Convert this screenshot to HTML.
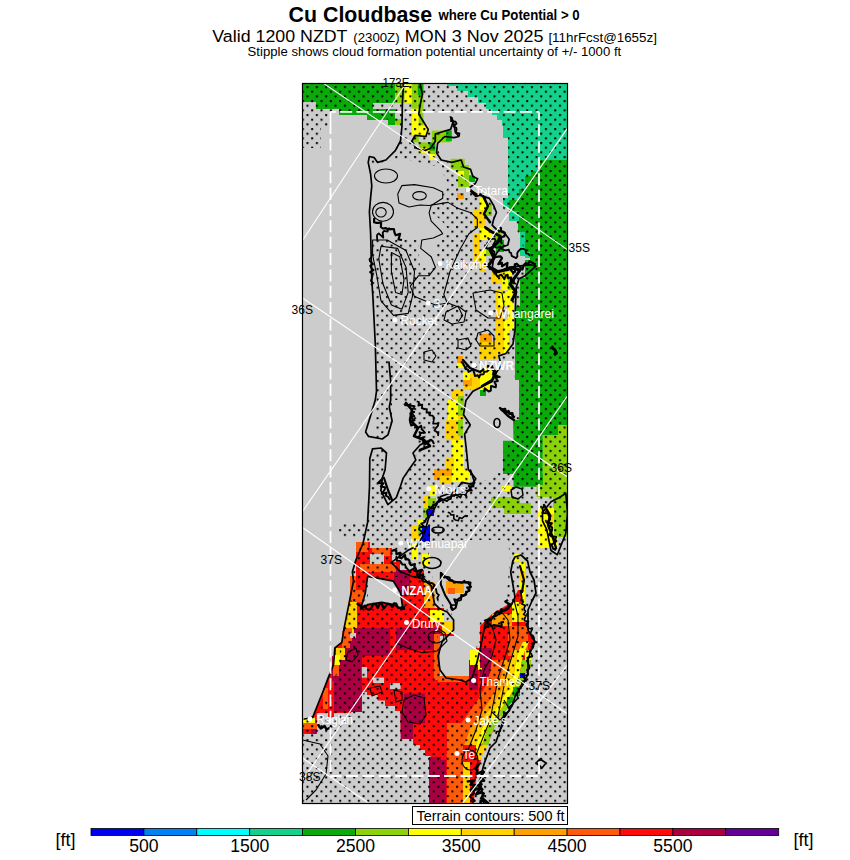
<!DOCTYPE html>
<html><head><meta charset="utf-8"><style>
html,body{margin:0;padding:0;background:#fff;width:850px;height:860px;overflow:hidden}
svg{position:absolute;left:0;top:0;display:block}
text{font-family:"Liberation Sans",sans-serif}
</style></head><body>
<svg width="850" height="860" viewBox="0 0 850 860">
<defs>
<pattern id="dots" x="0" y="0" width="9.4" height="9.4" patternUnits="userSpaceOnUse">
<circle cx="2" cy="2" r="0.9" fill="#000"/><circle cx="6.7" cy="6.7" r="0.9" fill="#000"/>
</pattern>
</defs>
<!-- titles -->
<text x="288.6" y="21.5" font-size="21.5" font-weight="bold" textLength="143.5" lengthAdjust="spacingAndGlyphs">Cu Cloudbase</text>
<text x="438.4" y="20.2" font-size="14.3" font-weight="bold" textLength="141.3" lengthAdjust="spacingAndGlyphs">where Cu Potential &gt; 0</text>
<text x="212.3" y="42.3" font-size="17.2" textLength="135.2" lengthAdjust="spacingAndGlyphs">Valid 1200 NZDT</text>
<text x="353.3" y="42" font-size="12.6" textLength="46.3" lengthAdjust="spacingAndGlyphs">(2300Z)</text>
<text x="404.8" y="42.3" font-size="17.2" textLength="138.8" lengthAdjust="spacingAndGlyphs">MON 3 Nov 2025</text>
<text x="548.4" y="42" font-size="13.6" textLength="108.5" lengthAdjust="spacingAndGlyphs">[11hrFcst@1655z]</text>
<text x="247.6" y="56.2" font-size="13.2" textLength="373.6" lengthAdjust="spacingAndGlyphs">Stipple shows cloud formation potential uncertainty of +/- 1000 ft</text>

<!-- map -->
<g id="map">
<clipPath id="mapclip"><rect x="302.5" y="83.5" width="265" height="720"/></clipPath>
<g clip-path="url(#mapclip)">
<rect x="302.5" y="83.5" width="265" height="720" fill="#cccccc"/>
<polygon points="302,83 395,83 395,125 388,125 388,120 367,120 367,115 339,115 339,109 316,109 316,102 302,102" fill="#0aaa0a"/>
<rect x="373" y="103" width="30" height="6" fill="#cccccc"/>
<rect x="395" y="119" width="6" height="6" fill="#8cd20a"/>
<rect x="395.3" y="83" width="9.4" height="20" fill="#8cd20a"/>
<rect x="404.7" y="83" width="7.1" height="20" fill="#ffff00"/>
<rect x="411.8" y="83" width="5.8" height="25.8" fill="#8cd20a"/>
<rect x="417.6" y="83" width="5.9" height="12.3" fill="#0aaa0a"/>
<rect x="417.6" y="95.3" width="5.9" height="13.5" fill="#8cd20a"/>
<rect x="411.8" y="108.8" width="7" height="26.5" fill="#ffff00"/>
<rect x="418.8" y="125.3" width="9.4" height="10" fill="#ffff00"/>
<rect x="418.8" y="108.8" width="4.7" height="16.5" fill="#8cd20a"/>
<rect x="413" y="135.3" width="5.8" height="7.1" fill="#8cd20a"/>
<rect x="418.8" y="142.4" width="13" height="5.8" fill="#8cd20a"/>
<rect x="418.8" y="148.2" width="10.6" height="4.7" fill="#ffff00"/>
<rect x="429.4" y="143.5" width="5.9" height="13" fill="#8cd20a"/>
<rect x="429.4" y="142.4" width="5.9" height="8.2" fill="#0aaa0a"/>
<rect x="429.4" y="154" width="5.9" height="6" fill="#ffff00"/>
<rect x="431.8" y="130.6" width="18.8" height="11.8" fill="#8cd20a"/>
<rect x="445.9" y="130.6" width="5.9" height="10.6" fill="#0aaa0a"/>
<rect x="450.6" y="158.8" width="14.1" height="10.6" fill="#8cd20a"/>
<rect x="457.6" y="170.6" width="7.1" height="3.4" fill="#ffff00"/>
<rect x="468.2" y="175.3" width="5.9" height="4.7" fill="#0aaa0a"/>
<polygon points="447,83 567.6,83 567.6,252 520,252 520,232 518,232 518,218 509,218 509,208 503,208 503,198 508,198 508,138 503,138 503,126 502,126 502,120 497,120 497,115 492,115 492,109 486,109 486,103 478,103 478,97 468,97 468,91 457,91 457,86 447,86" fill="#14d28c"/>
<polygon points="520,250 532,250 532,258 525,258 525,256 520,256" fill="#14d28c"/>
<polygon points="567.6,160 540,160 540,171 531,171 531,176 525,176 525,189 519,189 519,200 509,200 509,218 518,218 518,232 525,232 525,252 567.6,252" fill="#0aaa0a"/>
<polygon points="530,250 567.6,250 567.6,422 519,422 519,380 515,380 515,306 520,306 520,278 525,278 525,260 530,260" fill="#0aaa0a"/>
<polygon points="513,420 567.6,420 567.6,425 558,425 558,435 542.8,435 542.8,474 547,474 547,486.7 513.5,486.7 513.5,474 503,474 503,440.7 513.5,440.7" fill="#0aaa0a"/>
<polygon points="558,425 567.6,425 567.6,537 553,537 553,497 536.5,497 536.5,485 542.8,485 542.8,435 558,435" fill="#8cd20a"/>
<rect x="491" y="497" width="29" height="11" fill="#8cd20a"/>
<rect x="504" y="503" width="27" height="11" fill="#8cd20a"/>
<rect x="502" y="486" width="9" height="5" fill="#ffff00"/>
<rect x="538" y="508" width="20" height="40" fill="#ffff00"/>
<rect x="548" y="514" width="6" height="12" fill="#ffd200"/>
<rect x="554" y="500" width="13.6" height="36" fill="#8cd20a"/>
<rect x="514.3" y="554" width="5.2" height="7" fill="#ffff00"/>
<rect x="519.5" y="562" width="5.5" height="42" fill="#ffff00"/>
<rect x="519.5" y="572" width="5.5" height="9" fill="#ffd200"/>
<rect x="451" y="159" width="7" height="6" fill="#8cd20a"/>
<rect x="458" y="165" width="11" height="22" fill="#8cd20a"/>
<rect x="458" y="171" width="6" height="5" fill="#ffff00"/>
<rect x="469" y="176" width="6" height="6" fill="#0aaa0a"/>
<rect x="457" y="193" width="7" height="6" fill="#ffa000"/>
<rect x="480" y="198" width="6" height="12" fill="#ffff00"/>
<rect x="486" y="204" width="6" height="12" fill="#8cd20a"/>
<rect x="474" y="210" width="12" height="18" fill="#ffd200"/>
<rect x="480" y="228" width="12" height="12" fill="#ffff00"/>
<rect x="474" y="234" width="6" height="18" fill="#ffd200"/>
<rect x="494" y="232" width="8" height="10" fill="#8cd20a"/>
<rect x="496" y="240" width="8" height="12" fill="#0aaa0a"/>
<rect x="474" y="250" width="6" height="12" fill="#ffd200"/>
<rect x="480" y="250" width="6" height="12" fill="#ffff00"/>
<rect x="486" y="250" width="6" height="6" fill="#8cd20a"/>
<rect x="480" y="262" width="6" height="10" fill="#ffd200"/>
<rect x="492" y="272" width="10" height="12" fill="#ffd200"/>
<rect x="502" y="272" width="10" height="18" fill="#ffff00"/>
<rect x="508" y="278" width="6" height="12" fill="#8cd20a"/>
<rect x="496" y="290" width="8" height="30" fill="#ffd200"/>
<rect x="498" y="292" width="10" height="14" fill="#ffff00"/>
<rect x="508" y="290" width="6" height="40" fill="#ffff00"/>
<rect x="496" y="316" width="4" height="6" fill="#ffa000"/>
<rect x="496" y="320" width="8" height="34" fill="#ffd200"/>
<rect x="504" y="320" width="5" height="34" fill="#ffff00"/>
<rect x="480" y="334" width="12" height="8" fill="#ffa000"/>
<rect x="480" y="342" width="18" height="17" fill="#ffd200"/>
<rect x="457" y="356" width="6" height="7" fill="#ffa000"/>
<rect x="457" y="363" width="6" height="5" fill="#ffff00"/>
<rect x="464" y="374" width="16" height="16" fill="#ffd200"/>
<rect x="480" y="370" width="12" height="20" fill="#ffff00"/>
<rect x="492" y="374" width="6" height="6" fill="#8cd20a"/>
<rect x="464" y="378" width="8" height="8" fill="#ffa000"/>
<rect x="480" y="390" width="6" height="6" fill="#0aaa0a"/>
<rect x="463" y="372" width="7" height="8" fill="#ffff00"/>
<rect x="463" y="380" width="7" height="6" fill="#ffa000"/>
<rect x="452" y="390" width="12" height="32" fill="#ffd200"/>
<rect x="458" y="396" width="6" height="20" fill="#8cd20a"/>
<rect x="448" y="400" width="10" height="22" fill="#ffff00"/>
<rect x="446" y="420" width="14" height="20" fill="#ffd200"/>
<rect x="458" y="420" width="5" height="16" fill="#8cd20a"/>
<rect x="452" y="440" width="12" height="30" fill="#ffff00"/>
<rect x="446" y="458" width="8" height="12" fill="#ffd200"/>
<rect x="434" y="469" width="18" height="11" fill="#ffa000"/>
<rect x="452" y="470" width="18" height="12" fill="#ffff00"/>
<rect x="440" y="476" width="12" height="8" fill="#ffd200"/>
<rect x="430" y="486" width="6" height="10" fill="#ffff00"/>
<rect x="423" y="496" width="7" height="12" fill="#ffd200"/>
<rect x="428" y="498" width="8" height="10" fill="#8cd20a"/>
<rect x="423" y="508" width="7" height="10" fill="#8cd20a"/>
<rect x="428" y="510" width="6" height="6" fill="#0000f0"/>
<rect x="418" y="520" width="6" height="6" fill="#ffff00"/>
<rect x="412" y="526" width="8" height="16" fill="#ffd200"/>
<rect x="418" y="526" width="6" height="8" fill="#8cd20a"/>
<rect x="422" y="526" width="8" height="16" fill="#0000f0"/>
<rect x="412" y="544" width="6" height="16" fill="#ffff00"/>
<rect x="422" y="554" width="8" height="12" fill="#ffff00"/>
<polygon points="356,542 370,542 370,548 392,548 392,562 400,562 400,570 424,570 424,582 434,582 434,608 444,608 444,622 454,622 454,636 438,636 438,680 476,680 476,648 480,648 480,626 492,614 512,602 518,590 522,590 522,610 528,630 535,642 531,650 528,660 526,673 521,687 513,701 505,715 496,728 492,745 482,762 476,780 474,804 430.6,804 430.6,756 425,756 425,750 420,750 420,745 413,745 413,739 406,739 406,734 400.6,734 400.6,711 395,711 395,706 385,706 385,700.6 377.6,700.6 377.6,695 367,695 367,692 362,692 362,695 356.5,695 356.5,700.6 351,700.6 351,713 316.8,713 316.8,734 302.6,734 302.6,719 312.6,717.6 318.1,703.7 323.7,689.7 327.9,678.6 333.5,664.6 334.9,647.9 341.8,642.3 347.4,620 350,600 356,576" fill="#ff0a0a"/>
<rect x="394" y="570" width="16" height="26" fill="#aa0042"/>
<rect x="344" y="628" width="46" height="28" fill="#aa0042"/>
<rect x="396" y="628" width="44" height="22" fill="#aa0042"/>
<rect x="332" y="656" width="30" height="54" fill="#aa0042"/>
<rect x="334" y="660" width="28" height="52" fill="#aa0042"/>
<rect x="404" y="693.5" width="21" height="30" fill="#aa0042"/>
<rect x="400.6" y="711" width="12.4" height="28" fill="#aa0042"/>
<rect x="429" y="757" width="12" height="47" fill="#aa0042"/>
<rect x="480" y="648" width="12" height="30" fill="#aa0042"/>
<rect x="430" y="760" width="16" height="44" fill="#aa0042"/>
<rect x="356" y="542" width="12" height="10" fill="#ff5a0a"/>
<rect x="372" y="548" width="18" height="8" fill="#ff5a0a"/>
<rect x="360" y="564" width="36" height="8" fill="#ff5a0a"/>
<rect x="350" y="576" width="6" height="44" fill="#ff5a0a"/>
<rect x="424" y="582" width="10.5" height="26" fill="#ffa000"/>
<rect x="430" y="610" width="14" height="12" fill="#ffff00"/>
<rect x="442" y="622" width="12" height="12" fill="#ffd200"/>
<rect x="434" y="634" width="6" height="46" fill="#ff5a0a"/>
<rect x="438" y="676" width="38" height="6" fill="#ff5a0a"/>
<rect x="346" y="620" width="8" height="17" fill="#ffd200"/>
<rect x="342" y="631" width="8" height="17" fill="#ff5a0a"/>
<rect x="336" y="648" width="9" height="12" fill="#ffd200"/>
<rect x="333" y="655" width="7" height="10" fill="#ffff00"/>
<rect x="333" y="665" width="6" height="11" fill="#ff5a0a"/>
<rect x="323" y="688" width="9" height="21" fill="#ff5a0a"/>
<rect x="328" y="681" width="6" height="36" fill="#ff0a0a"/>
<rect x="350" y="590" width="16" height="12" fill="#ff5a0a"/>
<rect x="348" y="602" width="9" height="26" fill="#ffd200"/>
<rect x="345" y="628" width="7" height="13" fill="#ff5a0a"/>
<rect x="350" y="600" width="2" height="2" fill="#ff0a0a"/>
<rect x="302.6" y="717.6" width="12.4" height="5.4" fill="#ffff00"/>
<rect x="302.6" y="723" width="14.2" height="7" fill="#ff5a0a"/>
<rect x="302.6" y="729" width="8.4" height="5" fill="#ff0a0a"/>
<rect x="311" y="729" width="5.8" height="5" fill="#aa0042"/>
<rect x="512" y="602" width="7" height="20" fill="#ffff00"/>
<rect x="519" y="604" width="7" height="18" fill="#ffd200"/>
<rect x="492" y="614" width="20" height="12" fill="#ffa000"/>
<rect x="508" y="626" width="20" height="30" fill="#ff5a0a"/>
<rect x="470" y="650" width="12" height="20" fill="#ffff00"/>
<rect x="370" y="554" width="14" height="10" fill="#cccccc"/>
<rect x="361.8" y="667" width="5.2" height="10.6" fill="#cccccc"/>
<rect x="373" y="677.6" width="11" height="5.4" fill="#cccccc"/>
<rect x="390" y="683" width="10.6" height="6" fill="#cccccc"/>
<rect x="350" y="633" width="6" height="5" fill="#cccccc"/>
<polygon points="367.6,576.5 365.3,593 360.6,609.4 367.6,604.7 381.8,602.4 393.5,604.7 402.9,609.4 400.6,593 393.5,581.2 381.8,578.8" fill="#cccccc"/>
<polygon points="504,660 502,673 497,687 489,701 479,715 470,728 464,745 458,756 446,756 452,745 458,728 467,715 477,701 485,687 490,673 492,660" fill="#ff5a0a"/>
<polygon points="510,660 508,673 503,687 495,701 485,715 476,728 470,745 464,756 458,756 464,745 470,728 479,715 489,701 497,687 502,673 504,660" fill="#ffa000"/>
<polygon points="519,650 516,660 514,673 509,687 501,701 491,715 482,728 476,745 470,756 464,756 470,745 476,728 485,715 495,701 503,687 508,673 510,660 513,650" fill="#ffd200"/>
<polygon points="529,642 525,650 522,660 520,673 515,687 507,701 497,715 488,728 482,745 476,756 470,756 476,745 482,728 491,715 501,701 509,687 514,673 516,660 519,650 523,642" fill="#ffff00"/>
<polygon points="528,660 526,673 521,687 513,701 503,715 494,728 488,745 482,756 476,756 482,745 488,728 497,715 507,701 515,687 520,673 522,660" fill="#8cd20a"/>
<rect x="513" y="687" width="7" height="9" fill="#0aaa0a"/>
<rect x="507" y="697" width="6" height="9" fill="#0aaa0a"/>
<rect x="520" y="673" width="5" height="5" fill="#0000f0"/>
<rect x="525" y="650" width="6" height="10" fill="#ffff00"/>
<rect x="525" y="660" width="6" height="8" fill="#8cd20a"/>
<rect x="447" y="723" width="16" height="81" fill="#ff5a0a"/>
<rect x="463" y="745" width="13" height="20" fill="#ff0a0a"/>
<rect x="463" y="762" width="7" height="42" fill="#ffd200"/>
<rect x="478" y="745" width="12" height="15" fill="#ffd200"/>
<rect x="469" y="660" width="9" height="30" fill="#aa0042"/>
<rect x="480" y="650" width="10" height="18" fill="#aa0042"/>
<rect x="470" y="650" width="10" height="15" fill="#ffff00"/>
<polygon points="510,704 503,715 494,728 488,745 482,756 476,780 474,804 500,804 500,740 516,700" fill="#cccccc"/>
<rect x="509" y="211" width="10" height="10" fill="#14d28c"/>
<rect x="446" y="581" width="18" height="12" fill="#ffa000"/>
<rect x="448" y="588" width="7" height="6" fill="#ff5a0a"/>
<defs>
<pattern id="stip" x="305.5" y="85.06" width="9.35" height="9.33" patternUnits="userSpaceOnUse">
<rect x="1" y="1" width="2" height="2" fill="#000"/><rect x="5.675" y="5.665" width="2" height="2" fill="#000"/>
</pattern>
<mask id="stipmask" maskUnits="userSpaceOnUse" x="300" y="80" width="270" height="730">
<rect x="300" y="80" width="270" height="730" fill="#fff"/>
<g fill="#000">
<polygon points="302,148 321,148 321,127 331,127 331,114 380,114 395,125 401,127 400,141 395,150 386,160 377,162 374,158 369,157 368,162 370.6,174 371.8,185.9 370.6,197.6 369.4,211.8 370.6,233 371.8,280 372.9,297 375.3,344 376.5,391 375.3,450 370,458.8 369.5,487 367.6,522.4 363,524 338,524 338,538 363,538 355.9,560 352.4,571.8 353.5,581 348.8,604.7 344.1,628.2 341.8,640 336,674 328,694 318,712 303,722 302,722"/>
<polygon points="372,165 400,158 440,167 449,186 431,212 442,221 450,232 436,240 436,268 420,268 418,240 372,238"/>
<polygon points="420,111 492,111 497,115 502,120 503,126 508,138 508,198 503,198 503,208 509,218 518,232 525,252 530,260 536,266 519,266 507.8,267.5 499,271 492,267 496,253 508,245 505,234 492,225 496,212 489,198 476,194 468,188 463,167 441,160 437,143 452,130 435,134 428,129 422,120 420,105"/>
<polygon points="466,372 492,362 514,360 514,378 519,378 519,416 514,416 514,441 508,441 508,452 502.5,452 500,470 490,480 474,480 469.5,465 465,446 466,436 471,426 464,414 465,403 471,388"/>
<polygon points="440,540 508,540 510,560 505,610 480,622 476,650 472,678 456,680 440,676 436,640 452,614 438,600 432,575 428,550"/>
<polygon points="392,400 404,400 410,420 418,440 415,460 408.8,469.7 400,486 396,497 388,504 381,491 382,478 385,470 386.5,453 381,448 372.6,448.8 368.4,436.3 382.3,439 387.9,434.9 392.1,420.9"/>
<polygon points="368,577 400,577 403,609 368,609"/>
</g>
</mask>
</defs>
<rect x="302" y="83" width="266" height="721" fill="url(#stip)" mask="url(#stipmask)"/>

<g fill="none" stroke="#000" stroke-width="1.1" stroke-linejoin="round">
<ellipse cx="386" cy="176" rx="11.5" ry="7"/>
<ellipse cx="419.5" cy="195.8" rx="6.8" ry="4.2"/>
<ellipse cx="383" cy="211.8" rx="10.5" ry="9.4"/>
<ellipse cx="381" cy="212.3" rx="5.2" ry="4.7"/>
<polyline points="397.7,194 401.9,185.6 414.5,184.6 433.3,187.7 442.7,191.9 442.7,198.2 431.2,205.5 429.1,212.8 431.2,221.2 440.6,230.6 442.7,233.8 433.3,238 421.8,240 420.7,248.4 431.2,256.8 435.4,267.3 429.1,275.7 418.6,275.7 410.3,286.1 414.5,296.6 424.9,300.8 435.4,305 448,303 458.4,307 462.6,315.4 458.4,321.7"/>
<polyline points="397.7,194 399,203 409,207 420,205 429.1,205.5 448,202.4 458.4,208.6 471,212.8 477.3,219.1 477.3,227.5 468.9,233.8 460.5,248.4 450,271.5 443.8,294.5 448,305"/>
<polygon points="372.6,240 387.2,240 406,250.5 414.5,271.5 412.4,296.6 408.2,313.4 393.5,315.4 381,300.8 376.8,275.7 372.6,254.7"/>
<polygon points="381,246.3 397.7,248.4 406,267.3 408.2,292.4 401.9,309.2 391.4,305 383,284 378.8,258.9"/>
<polygon points="391.4,252.6 399.8,256.8 404,279.8 401.9,294.5 395.6,292.4 391.4,271.5"/>
<!-- Whangarei loops -->
<polygon points="473,293 490,290 502,293 504,306 500,318 488,318 476,310"/>
<polygon points="478,333 488,330 494,336 494,346 480,346 476,340"/>
<polygon points="458,340 468,338 471,346 466,350 458,348"/>
<polygon points="424,352 432,350 436,356 432,362 424,360"/>
<polygon points="446,312 458,306 466,312 464,322 452,324 444,320"/>
<!-- Auckland / Drury loops -->
<ellipse cx="436" cy="637" rx="8" ry="6"/>
<polyline points="396,643 407.4,648 422,652.7 437,651 447,641 445,633 438,628"/>
<polygon points="348,652 356,648 358,655 352,662 346,660"/>
<polygon points="404,700 414,695 424,698 426,715 420,724 408,722 402,712"/>
<polygon points="370,688 380,686 382,692 372,696"/>
<polygon points="394,690 402,692 402,700 396,702"/>
<!-- Coromandel nested contours -->
<polyline points="484,620 492,626 496,640 492,656 484,670 480,690 482,710 476,730 468,750"/>
<polyline points="500,610 508,620 510,640 504,660 498,678 494,700 490,720 482,740 474,760"/>
<polyline points="514,600 518,616 518,636 512,656 506,676 502,696 498,716"/>
<polyline points="504,700 510,710 500,720 492,712"/>
<ellipse cx="470" cy="760" rx="8" ry="10"/>
<!-- bottom left contour -->
<polyline points="302.6,740 320,744 328,756 326,774 316,790 306,800"/>
<polygon stroke-width="1.6" points="536,763 540,759 546,763 542,768 540,766"/>
<polygon stroke-width="1.5" points="511,490 516,487 522,489 523,495 518,499 512,497"/>
</g>

<g fill="none" stroke="#000" stroke-width="1.7" stroke-linejoin="round" stroke-linecap="round">
<!-- west coast Northland -->
<polyline points="403.5,83 402.4,103.5 401.9,127 400.5,141 395.3,150.6 385.9,160 377.6,162.4 374.1,157.6 369.4,156.5 368.2,162.4 370.6,174 371.8,185.9 370.6,197.6 369.4,211.8 370.6,233 371.8,280 372.9,297 375.3,344 376.5,391 375.3,400 365.6,432 368.4,436.3 382.3,439 387.9,434.9 392.1,420.9 389.3,407 390.7,400 390.6,380 389,362"/>
<!-- east coast north -->
<polyline points="420,83 422.4,94.1 420,105.9 418.8,114.1 422.4,120 428.2,129.4 425.9,136.5 415.3,135.3 411.8,141.2 416.5,148.2 424.7,150.6 430.6,148.2 435.3,141.2 435.3,134.1 442.4,131.8 450.6,129.4 452.9,122.4 451.8,117.6 454.1,124.7 455.3,131.8 458.8,136.5 454.1,137.6 444.7,136.5 437.6,143.5 436.5,152.9 441.2,160 451.8,162.4 461.2,160 463.5,167 470.6,169.4 472.9,176.5 477.6,178.8 475.3,183.5 468.2,188.5 476.7,194.1 489.4,198.4 493.6,205.4 496.5,212.5 493.6,219.5 492.2,225.2 496.5,229.4 504.9,233.6 509.2,239.3 507.8,245 500.7,247.8 496.5,253.4 493.6,259.1 492.2,267.5 499.3,271.8 507.8,267.5 519.1,266.1 530.4,264.7 536,266.1 524.7,276 519.1,278.8 516.2,287.3 515.3,311.2 515.3,327.6 513,344 505.9,353.5 498.8,355.9 501.2,365.3 496.5,372.4 491.8,381.8 482.4,386.5 472.9,391.2 465.9,400.6 463.5,414.7 470.2,424.8 464.6,434.1 466.5,450.8 468.3,469.4 475.8,478.7 472,484.3 461.8,482.4 454.7,491.8 440.6,496.5 433.5,510.6 428.8,517.6 424.1,534 417,545.9 407.6,550.6 398.2,557.6 391.2,562.4 400.6,571.8 412.4,576.5 424.1,578.8 431.2,585.9 434.5,603.6 439.8,608.8 447.2,612 453.6,620 453.6,630 442,642 438,656 440,670 446,678 460,680 466,682 472,678 476,666 480,650 484,630 486,620 496,616 504,610 512,604 515,597 512.8,584 510.7,572 512.8,561 515,557 521,555 527.6,561 530,572 534,580 536,593 532,601 528,610 528,630 535,642 531,650"/>

<polyline points="531,650 528,660 528,674 522,686 516,694 512,706 504,718 500,730 496,742 490,748 484,764 480,780 484,804"/>
<!-- Kaipara -->
<polyline points="372.6,448.8 369.8,458.6 369.5,487 367.6,522.4 363,543.5 355.9,560 352.4,571.8 353.5,581 348.8,604.7 344.1,628.2 341.8,642.3 334.9,647.9 333.5,664.6 327.9,678.6 323.7,689.7 318.1,703.7 312.6,717.6 304.2,719"/>
<polyline points="372.6,448.8 381,448 386.5,453 385.1,469.7 382.3,478.1 380.9,490.7 387.9,504.6 396.3,497.6 400.4,486.5 403.2,478.1 408.8,469.7 415.8,460 413,453 420,445 430,440"/>
<polyline stroke-width="2.6" points="406,403 412,410 410,420 418,428 414,436 424,440 430,446 420,450"/>
<polyline stroke-width="2.2" points="384,478 388,490 392,500"/>
<!-- Manukau -->
<polyline points="367.6,576.5 365.3,593 360.6,609.4 367.6,604.7 381.8,602.4 393.5,604.7 402.9,609.4 400.6,593 393.5,581.2 381.8,578.8 367.6,576.5"/>
<!-- Hunua coast -->

<polyline stroke-width="3" points="486,228 492,232 500,236 498,242 490,250 494,258 488,266 496,272 505,270 512,268 520,270 516,276 510,284 516,292 512,300"/>
<polyline stroke-width="2.5" points="470,190 476,196 482,194 488,206 484,214 490,222"/>
<polygon points="542.5,512.4 551,501.8 559.4,497.5 565.8,493.3 567.5,512.4 565.8,533.5 561.5,544.1 557.3,554.7 551,550.5 548.8,539.9 546.7,529.3 542.5,520.8"/>
<polyline stroke-width="2.4" points="544,505 550,515 548,525 553,538 556,548"/>
<polygon stroke-width="2" points="440.8,572.8 449.3,580.3 457.8,582.4 470.5,582.4 469.5,589.8 464.2,595.1 457.8,599.3 455.7,607.8 452.5,609.9 450.4,603.6 445.1,595.1 440.8,584.5"/>
<ellipse cx="432" cy="563" rx="9" ry="5.5"/>
<ellipse cx="438" cy="530" rx="6" ry="3"/>
<polyline points="430,508 438.7,501.8 453.5,495.4 466.2,493.3 474.7,482.7 470.5,470"/>
<polyline stroke-width="2.4" points="463,360 470,368 480,372 488,366 496,372 492,380 482,386"/>
<polyline stroke-width="2.4" points="500,408 508,416 514,420"/>
<ellipse cx="497" cy="423" rx="3" ry="4.5"/>
<polyline stroke-width="2.2" points="520,566 524,580 522,592"/>
</g>

<g fill="none" stroke="#000" stroke-linejoin="round"><polyline stroke-width="2.2" points="488.1,241.9 485.6,247.6 487.7,248.7 492.2,247.4 492.4,250.4 494.3,251.8 494.2,254.6 494.4,257.2 500.4,256.3 502.0,258.1 498.3,264.1 502.0,262.9 502.0,266.3 507.5,262.9 506.9,267.0 507.2,270.1 509.3,267.9 513.1,272.7 515.0,271.7 514.8,264.4 516.8,263.7 520.1,267.0 522.5,269.5 523.9,264.8 525.7,263.2 527.9,264.5 529.5,261.1 531.7,262.4 533.9,263.8 536.0,264.0"/>
<polyline stroke-width="1.8" points="487.7,237.4 488.9,239.4 494.7,238.6 495.7,240.7 493.1,245.0 495.5,247.3 497.6,247.7 500.4,246.5 501.8,249.0 503.8,249.8 505.7,250.4 508.8,249.6 509.4,252.1 511.2,253.1 511.6,255.9 516.1,258.1 517.4,256.4 517.2,253.2 518.3,251.3 520.7,248.8 523.4,248.8 525.5,250.0 526.1,253.4 528.6,253.9 530.0,256.0"/>
<polyline stroke-width="2" points="493.1,268.9 493.4,271.8 495.8,272.6 496.4,275.2 497.9,276.9 499.5,275.4 501.4,274.7 504.4,279.2 505.7,275.4 507.7,274.8 507.6,277.8 511.3,277.5 510.8,280.4 513.7,280.7 514.1,282.9 516.0,284.0"/>
<polyline stroke-width="2" points="499.3,227.0 501.1,228.2 500.9,230.8 503.3,231.6 504.9,232.8 504.6,236.1 501.1,237.4 501.3,239.6 501.0,241.6 502.0,244.0"/>
<polyline stroke-width="2" points="462.5,362.5 463.4,364.6 464.7,366.5 465.5,368.8 467.9,369.6 468.6,372.0 473.0,369.4 474.1,372.6 475.0,376.1 477.7,375.2 479.1,377.4 480.4,374.4 483.5,374.3 484.1,371.7 487.0,371.4 488.7,369.9 492.1,365.9 492.8,368.4 494.1,370.3 493.0,374.6 495.3,375.5 499.8,376.9 495.4,377.2 497.9,381.0 494.4,381.7 496.0,385.0 495.7,387.3 491.0,386.0 490.8,390.6 488.8,391.5 484.7,388.4 484.0,392.0"/>
<polyline stroke-width="2" points="404.2,403.5 405.3,405.3 408.8,405.3 411.5,405.8 414.5,406.2 411.6,411.1 414.2,412.0 411.6,413.7 414.3,416.2 410.9,417.6 414.5,420.3 410.0,421.6 411.2,425.6 414.3,424.4 415.9,426.3 417.3,428.3 421.1,425.8 421.8,429.4 421.7,429.1 424.9,432.7 420.1,433.1 420.2,435.4 418.2,437.0 420.4,438.7 422.9,437.4 423.3,443.5 425.3,444.1 428.1,441.9 430.9,439.7 432.7,441.1 434.0,444.0"/>
<polyline stroke-width="1.8" points="416.7,401.3 419.0,402.0 418.4,405.6 422.3,404.7 421.8,408.2 424.1,408.9 426.9,409.1 426.5,412.5 430.2,412.3 429.6,415.4 432.7,415.7 433.9,417.5 433.7,420.4 433.1,423.6 438.2,423.6 438.0,425.7 435.9,428.1 434.4,430.4 436.9,432.1 438.3,433.9 438.0,436.0"/>
<polyline stroke-width="2" points="381.6,479.5 378.0,482.9 383.5,483.3 380.8,486.4 385.0,487.2 384.8,489.5 381.6,493.8 386.6,492.6 385.7,495.7 387.8,496.7 389.0,498.2 390.0,500.0"/>
<polyline stroke-width="1.8" points="474.2,482.1 473.5,484.1 473.5,486.6 468.7,485.9 471.9,490.5 468.3,490.6 465.2,491.0 466.4,496.5 464.0,494.0 461.9,493.9 460.4,497.6 458.1,495.9 455.8,494.2 454.0,496.0 451.4,494.8 450.9,498.8 448.7,499.4 447.0,501.1 444.0,500.0 440.9,498.7 439.7,501.5 437.2,501.8 436.4,505.0 433.2,504.3 433.2,508.8 431.1,508.6 428.1,509.5 426.8,511.4 427.4,514.2 428.2,517.1 426.3,518.6 425.7,520.5 424.7,522.4 421.1,523.5 424.0,526.5 419.5,527.4 419.0,529.4 423.1,532.7 420.0,534.0"/>
<polyline stroke-width="1.6" points="447.8,512.3 449.9,513.1 451.1,515.0 453.9,514.9 453.7,518.6 455.3,519.9 458.3,520.7 459.4,517.6 462.0,518.5 463.7,516.8 465.5,515.6 468.0,516.0"/>
<polyline stroke-width="1.8" points="396.2,555.8 397.1,557.9 396.7,560.9 400.2,560.9 401.3,562.7 402.3,564.7 405.0,564.4 406.0,567.3 407.6,569.1 409.1,571.1 413.3,568.7 414.6,571.0 417.3,571.1 417.0,576.0 419.4,576.6 423.4,574.4 422.0,580.0 423.6,581.6 426.5,581.9 428.3,583.3 431.9,582.9 434.7,584.9 432.7,588.1 436.1,589.0 436.3,591.3 436.9,593.4 438.9,594.9 437.3,597.9 438.0,600.0"/>
<polyline stroke-width="1.8" points="441.1,573.9 442.3,576.0 444.1,577.5 447.5,576.8 449.7,577.7 450.1,580.4 452.1,580.0 453.9,582.9 455.9,582.4 458.0,582.2 460.0,582.1 461.8,582.8 464.4,580.8 466.1,582.7 468.4,581.9 468.1,583.2 471.2,586.8 466.9,587.4 469.6,590.8 465.9,591.7 466.4,594.7 464.2,595.6 461.1,594.9 461.2,599.7 459.1,600.7 454.1,599.2 455.2,602.0 456.3,604.8 451.3,605.1 450.7,607.2 452.0,610.0"/>
<polyline stroke-width="2" points="544.8,505.4 542.3,508.5 543.0,510.5 542.5,512.9 548.2,513.2 548.6,515.3 549.9,517.1 550.1,519.5 546.7,522.5 551.9,523.3 549.3,526.1 552.2,527.4 552.1,529.6 551.5,531.9 548.9,534.7 551.2,536.2 556.3,536.9 554.9,539.5 556.4,541.2 551.4,544.8 552.5,546.7 553.1,548.7 556.0,550.0"/>
<polyline stroke-width="2.4" points="479.1,763.5 475.8,768.9 477.5,770.3 476.6,773.8 483.1,771.2 484.6,772.8 481.8,775.1 481.7,777.4 484.1,780.8 479.7,781.3 481.5,784.4 477.2,784.9 482.4,789.5 480.2,788.3 476.2,794.2 481.8,792.4 483.9,793.5 481.0,798.6 483.6,799.2 487.9,802.9 483.7,800.9 481.1,801.3 480.0,804.0"/>
<polyline stroke-width="2.2" points="466.7,781.7 474.5,780.3 470.3,784.8 475.4,784.8 470.5,789.7 478.5,788.3 473.2,790.9 473.9,793.5 471.7,794.9 469.9,796.5 474.7,800.8 472.0,802.0"/>
<polyline stroke-width="1.6" points="520.7,589.9 520.5,592.0 521.1,593.9 521.4,596.0 521.9,597.9 521.0,600.1 523.4,601.8 521.9,604.1 525.3,605.6 524.2,607.8 524.4,609.9 525.7,611.4 523.5,614.4 526.2,615.7 524.6,618.5 524.5,620.7 528.5,621.6 526.1,624.6 527.2,626.5 528.5,628.3 532.2,629.3 530.9,631.9 530.7,634.2 533.0,635.7 534.0,637.6 534.2,639.7 535.2,642.3 532.0,643.6 533.6,646.2 532.7,648.1 531.0,649.8 529.0,651.4 531.6,654.3 532.2,656.4 527.3,657.6 527.6,659.7 527.4,661.7 528.4,664.0 529.4,666.2 529.4,668.3 528.3,670.2 527.2,672.1 528.3,674.8 524.6,675.7 523.7,677.6 526.3,680.9 521.6,681.4 522.5,684.0 519.8,685.3 521.1,688.1 518.7,689.1 519.2,691.7 517.5,693.1 517.0,695.1 518.1,698.1 516.6,699.5 515.2,701.1 513.4,702.5 512.6,704.3 510.8,705.7 509.3,707.1 509.4,709.5 508.8,711.4 507.0,712.7 504.0,713.4 503.8,715.5 503.3,717.7 501.6,719.3 503.2,722.6 502.8,724.9 501.8,726.9 500.7,728.8 500.2,731.1 496.4,731.7 496.0,734.0"/>
<polyline stroke-width="2.4" points="317.9,724.1 319.2,726.6 320.8,728.5 324.6,725.9 326.5,729.5 328.4,728.5 330.3,727.6 332.0,726.0"/>
<polyline stroke-width="2.4" points="483.8,626.7 488.3,626.7 487.3,623.3 487.5,620.8 490.7,620.0 492.0,618.0 493.5,616.7 495.0,615.3 495.7,612.9 497.2,611.6 500.9,613.3 501.2,609.5 504.8,610.5 508.2,608.6 509.3,606.7 510.4,604.9 505.4,601.5 508.0,600.0"/>
<polyline stroke-width="2.2" points="489.7,625.0 491.6,626.2 494.0,625.1 496.0,625.6 497.6,625.5 501.7,627.1 501.3,622.3 504.0,622.0"/>
<polyline stroke-width="2.2" points="356.5,603.9 358.9,604.1 360.2,605.7 361.3,607.5 365.3,605.6 366.2,608.8 368.7,609.7 370.6,608.9 372.1,606.6 373.4,603.7 376.1,604.5 377.7,608.1 380.2,603.0 382.1,604.5 383.7,608.5 385.9,605.7 387.7,603.9 389.8,604.1 392.5,607.2 393.8,603.4 396.3,603.7 397.1,605.8 398.1,607.9 400.8,607.6 403.9,606.8 404.0,610.0"/>
<polyline stroke-width="2.2" points="374.2,218.0 374.1,222.2 376.0,222.8 378.3,222.9 381.1,222.3 380.9,227.0 382.8,228.5 386.0,228.1 388.0,229.4 391.0,229.1 393.9,229.1 394.5,232.6 395.7,235.2 400.1,233.9 398.5,239.5 402.0,240.0"/>
<polyline stroke-width="1.8" points="377.2,240.5 377.0,235.1 378.7,233.4 383.3,237.7 382.7,232.7 383.9,230.9 387.6,231.6 387.8,228.8 390.0,228.0"/>
<polyline stroke-width="3" points="551.5,345.9 553.0,348.4 554.5,349.4 556.5,353.1 554.0,355.0"/>
<polyline stroke-width="2.8" points="500.7,408.6 502.2,409.9 505.0,409.2 505.5,412.3 508.5,411.3 509.5,413.7 512.2,413.5 512.8,416.4 515.0,417.0"/>
<polyline stroke-width="1.8" points="371.5,257.0 369.5,259.3 370.0,261.4 372.6,263.4 370.2,265.8 371.3,267.9 373.8,270.1 370.0,272.0 372.7,274.4 372.3,276.5 371.7,278.6 370.9,280.7 372.6,283.0 371.0,285.0"/>
<polyline stroke-width="2.2" points="391.1,551.2 394.7,549.8 396.3,551.0 396.4,554.1 400.0,552.7 399.4,557.5 401.4,558.3 405.0,555.0 405.6,559.4 408.0,559.2 409.4,560.6 409.6,563.4 410.9,565.1 414.9,564.1 414.3,567.1 415.8,568.8 416.0,571.2 422.0,569.8 418.6,574.7 422.0,575.0"/>
<polyline stroke-width="1.8" points="450.3,116.3 451.1,118.5 451.0,121.0 455.5,121.6 456.6,123.5 453.4,126.4 456.3,127.8 456.6,129.7 455.6,132.7 459.4,133.3 459.0,136.0"/></g>
<g stroke="#fff" fill="none">
<g stroke-width="1.1">
<polyline points="323.1,83.1 509.4,209.1 567.6,249.9"/>
<line x1="302.5" y1="298" x2="567.6" y2="477"/>
<line x1="302.5" y1="527.5" x2="567.6" y2="714"/>
<line x1="302.5" y1="758" x2="370" y2="804"/>
<line x1="406" y1="83.3" x2="302.5" y2="240.5"/>
<line x1="567.6" y1="128" x2="302.5" y2="511.5"/>
<line x1="567.6" y1="395.5" x2="302.5" y2="780.4"/>
<line x1="567.6" y1="664.5" x2="462" y2="804"/>
</g>
<g stroke-width="1.8" stroke-dasharray="12 4.35">
<line x1="330.5" y1="111.8" x2="539" y2="111.8" stroke-dashoffset="6.7"/>
<line x1="330.5" y1="111.8" x2="330.5" y2="134.1" stroke-dasharray="none"/>
<line x1="330.5" y1="138.6" x2="330.5" y2="776"/>
<line x1="330.5" y1="776" x2="539" y2="776" stroke-dashoffset="0.85"/>
<line x1="539" y1="111.8" x2="539" y2="776" stroke-dashoffset="3.85"/>
</g>
</g>

</g>
<rect x="302.5" y="83.5" width="265" height="720" fill="none" stroke="#000" stroke-width="1.2"/>
<g font-family="Liberation Sans, sans-serif">
<g fill="#000" font-size="12.5">
<text x="382.6" y="87" textLength="26.7" lengthAdjust="spacingAndGlyphs">173E</text>
<text x="568.5" y="252" textLength="21.5" lengthAdjust="spacingAndGlyphs">35S</text>
<text x="291.5" y="314" textLength="21.5" lengthAdjust="spacingAndGlyphs">36S</text>
<text x="550.5" y="472" textLength="21.5" lengthAdjust="spacingAndGlyphs">36S</text>
<text x="320.5" y="563.5" textLength="21.5" lengthAdjust="spacingAndGlyphs">37S</text>
<text x="528.5" y="689.5" textLength="21.5" lengthAdjust="spacingAndGlyphs">37S</text>
<text x="299" y="780.5" textLength="21.5" lengthAdjust="spacingAndGlyphs">38S</text>
</g>
<g fill="#fff" font-size="12">
<circle cx="468" cy="189.6" r="2.5"/><text x="474.5" y="195" textLength="33.5" lengthAdjust="spacingAndGlyphs">Totara</text>
<circle cx="440" cy="263.4" r="2.5"/><text x="445.5" y="268.5" textLength="42.7" lengthAdjust="spacingAndGlyphs">Kaikohe</text>
<circle cx="428.2" cy="303" r="2.5"/><text x="433.5" y="307.8" textLength="7" lengthAdjust="spacingAndGlyphs">3</text>
<circle cx="394.8" cy="319.9" r="2.5"/><text x="400.5" y="325" textLength="37" lengthAdjust="spacingAndGlyphs">Rocket</text>
<circle cx="490.6" cy="313" r="2.5"/><text x="495.5" y="318.2" textLength="58.5" lengthAdjust="spacingAndGlyphs">Whangarei</text>
<circle cx="474" cy="365.3" r="2.5"/><text x="479" y="370" font-weight="bold" textLength="35" lengthAdjust="spacingAndGlyphs">NZWR</text>
<circle cx="428.8" cy="488.7" r="2.5"/><text x="434.2" y="494" textLength="32.3" lengthAdjust="spacingAndGlyphs">Moirs</text>
<circle cx="400.9" cy="543.2" r="2.5"/><text x="406.2" y="548" textLength="60.5" lengthAdjust="spacingAndGlyphs">Whenuapai</text>
<circle cx="394.7" cy="590" r="2.5"/><text x="401.5" y="595.3" font-weight="bold" textLength="30.5" lengthAdjust="spacingAndGlyphs">NZAA</text>
<circle cx="406.5" cy="622.4" r="2.5"/><text x="412" y="628" textLength="28.6" lengthAdjust="spacingAndGlyphs">Drury</text>
<circle cx="473.6" cy="680.4" r="2.5"/><text x="479.5" y="686" textLength="41.5" lengthAdjust="spacingAndGlyphs">Thames</text>
<circle cx="468" cy="720" r="2.5"/><text x="473.5" y="725" textLength="33.5" lengthAdjust="spacingAndGlyphs">Jake's</text>
<circle cx="457" cy="753.6" r="2.5"/><text x="462.5" y="759" textLength="12.5" lengthAdjust="spacingAndGlyphs">Te</text>
<circle cx="310" cy="719" r="2.5"/><text x="316.5" y="724" textLength="36.5" lengthAdjust="spacingAndGlyphs">Raglan</text>
</g>
</g>

</g>

<!-- terrain legend -->
<rect x="412.5" y="806.5" width="155" height="18" fill="#fff" stroke="#000" stroke-width="1"/>
<text x="416.5" y="820.8" font-size="14.4" textLength="148" lengthAdjust="spacingAndGlyphs">Terrain contours: 500 ft</text>

<!-- colorbar -->
<g stroke="#000" stroke-width="0.8">
<rect x="91" y="828.5" width="52.9" height="7" fill="#0000f0"/>
<rect x="143.9" y="828.5" width="52.9" height="7" fill="#0082f5"/>
<rect x="196.8" y="828.5" width="52.9" height="7" fill="#00ffff"/>
<rect x="249.7" y="828.5" width="52.9" height="7" fill="#14d28c"/>
<rect x="302.6" y="828.5" width="52.9" height="7" fill="#0aaa0a"/>
<rect x="355.5" y="828.5" width="52.9" height="7" fill="#8cd20a"/>
<rect x="408.4" y="828.5" width="52.9" height="7" fill="#ffff00"/>
<rect x="461.3" y="828.5" width="52.9" height="7" fill="#ffd200"/>
<rect x="514.2" y="828.5" width="52.9" height="7" fill="#ffa000"/>
<rect x="567.1" y="828.5" width="52.9" height="7" fill="#ff5a0a"/>
<rect x="620" y="828.5" width="52.9" height="7" fill="#ff0a0a"/>
<rect x="672.9" y="828.5" width="52.9" height="7" fill="#aa0042"/>
<rect x="725.8" y="828.5" width="52.9" height="7" fill="#640096"/>
</g>
<g font-size="17.6" text-anchor="middle">
<text x="143.9" y="851.5">500</text>
<text x="249.7" y="851.5">1500</text>
<text x="355.5" y="851.5">2500</text>
<text x="461.3" y="851.5">3500</text>
<text x="567.1" y="851.5">4500</text>
<text x="672.9" y="851.5">5500</text>
</g>
<text x="55.5" y="845.5" font-size="18">[ft]</text>
<text x="793.5" y="845.5" font-size="18">[ft]</text>
</svg>
</body></html>
